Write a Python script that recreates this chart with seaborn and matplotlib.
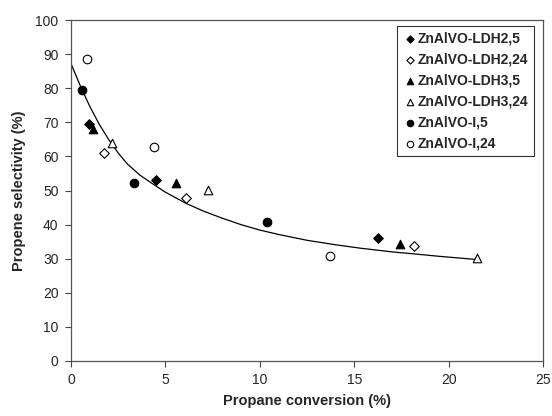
import matplotlib
matplotlib.use("Agg")
import matplotlib.pyplot as plt
import seaborn as sns
import pandas as pd

sns.set_theme(style="white")
plt.rcParams['font.family'] = ['Liberation Sans', 'DejaVu Sans']

# Data
series_names = ["ZnAlVO-LDH2,5", "ZnAlVO-LDH2,24", "ZnAlVO-LDH3,5",
                "ZnAlVO-LDH3,24", "ZnAlVO-I,5", "ZnAlVO-I,24"]
ldh2_5_x = [0.97, 4.49, 16.27]
ldh2_5_y = [69.6, 53.1, 36.1]
ldh2_24_x = [1.76, 6.08, 18.19]
ldh2_24_y = [60.9, 47.8, 33.6]
ldh3_5_x = [1.18, 5.57, 17.4]
ldh3_5_y = [68.1, 52.2, 34.4]
ldh3_24_x = [2.18, 7.28, 21.48]
ldh3_24_y = [63.9, 50.1, 30.3]
i_5_x = [0.57, 3.33, 10.36]
i_5_y = [79.6, 52.3, 40.8]
i_24_x = [0.83, 4.37, 13.71]
i_24_y = [88.7, 62.7, 30.8]

# Trend curve
curve_x = [0.0, 0.5, 1.0, 1.5, 2.0, 2.5, 3.0, 3.65, 4.45, 5.0, 6.1, 7.0, 8.0,
           9.0, 10.0, 11.0, 12.5, 14.0, 15.3, 17.0, 18.0, 19.5, 21.4]
curve_y = [87.2, 80.6, 74.6, 69.4, 64.9, 61.0, 57.7, 54.5, 51.5, 49.5, 46.2,
           44.0, 41.9, 40.0, 38.4, 37.1, 35.4, 34.1, 33.1, 32.0, 31.5, 30.7, 29.8]

x_ticks = [0, 5, 10, 15, 20, 25]
y_ticks = [0, 10, 20, 30, 40, 50, 60, 70, 80, 90, 100]

xs = [ldh2_5_x, ldh2_24_x, ldh3_5_x, ldh3_24_x, i_5_x, i_24_x]
ys = [ldh2_5_y, ldh2_24_y, ldh3_5_y, ldh3_24_y, i_5_y, i_24_y]
markers = ["D", "D", "^", "^", "o", "o"]
filled = [True, False, True, False, True, False]
sizes = [24, 24, 38, 38, 38, 38]

fig = plt.figure(figsize=(5.52, 4.16), dpi=100)
ax = fig.add_axes([71/552, 1-361/416, (543-71)/552, (361-20)/416])

sns.lineplot(x=curve_x, y=curve_y, ax=ax, color="black", linewidth=0.9,
             zorder=2, legend=False)

for name, x, y, m, f, s in zip(series_names, xs, ys, markers, filled, sizes):
    df = pd.DataFrame({"x": x, "y": y})
    sns.scatterplot(data=df, x="x", y="y", ax=ax, marker=m, s=s,
                    color="black" if f else "white", edgecolor="black",
                    linewidth=0.8, label=name, zorder=3)

ax.set_xlim(0, 25)
ax.set_ylim(0, 100)
ax.set_xticks(x_ticks)
ax.set_yticks(y_ticks)
ax.tick_params(axis="both", which="both", direction="out", length=4,
               width=0.8, color="#444444", labelsize=10, pad=5,
               left=True, bottom=True)
for side in ["left", "bottom", "top", "right"]:
    ax.spines[side].set_color("#555555")
    ax.spines[side].set_linewidth(0.9)

ax.set_xlabel("Propane conversion (%)", fontsize=10.5, fontweight="bold",
              labelpad=5)
ax.set_ylabel("Propene selectivity (%)", fontsize=10.5, fontweight="bold",
              labelpad=7)

leg = ax.legend(loc="upper right", bbox_to_anchor=(0.981, 0.982),
                borderaxespad=0, frameon=True, fancybox=False,
                prop={"weight": "bold", "size": 10}, markerscale=0.75,
                handletextpad=0.1, handlelength=1.0, labelspacing=0.5,
                borderpad=0.4)
leg.get_frame().set_edgecolor("black")
leg.get_frame().set_linewidth(0.8)

fig.savefig("out.png", dpi=100)
